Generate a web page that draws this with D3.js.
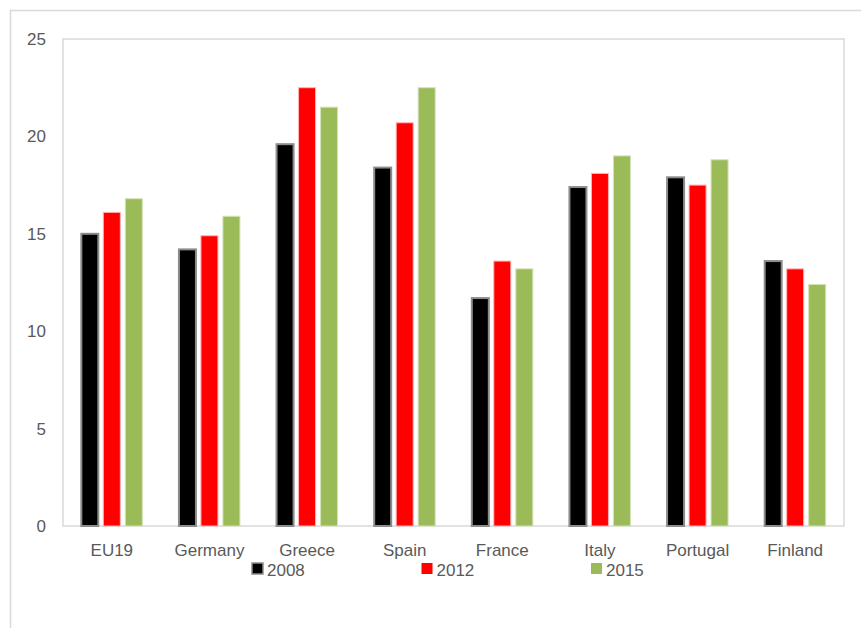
<!DOCTYPE html>
<html>
<head>
<meta charset="utf-8">
<title></title>
<script src="https://d3js.org/d3.v7.min.js"></script>
<style>
  body { margin: 0; background: #fff; }
  text { font-family: "Liberation Sans", Arial, sans-serif; fill: #595959; }
</style>
</head>
<body>
<script>
var w = 861, h = 628;
var categories = ["EU19", "Germany", "Greece", "Spain", "France", "Italy", "Portugal", "Finland"];
var years = ["2008", "2012", "2015"];
var v2008 = [15.0, 14.2, 19.6, 18.4, 11.7, 17.4, 17.9, 13.6];
var v2012 = [16.1, 14.9, 22.5, 20.7, 13.6, 18.1, 17.5, 13.2];
var v2015 = [16.8, 15.9, 21.5, 22.5, 13.2, 19.0, 18.8, 12.4];
var yTicks = [0, 5, 10, 15, 20, 25];

var fills = ["#000000", "#ff0000", "#9bbb59"];
var strokes = ["#8c8c8c", "#ffb3b3", "#d4e2b8"];

var series = [v2008, v2012, v2015];
var rows = categories.map(function(c, i) {
  return { cat: c, vals: years.map(function(y, j) { return { year: y, j: j, v: series[j][i] }; }) };
});

var m = { left: 63, right: 17, top: 39, bottom: 102 };
var svg = d3.select("body").append("svg").attr("width", w).attr("height", h);

// outer frame
svg.append("path").attr("d", "M10.5," + h + "V10.5H" + w)
  .attr("fill", "none").attr("stroke", "#d9d9d9").attr("stroke-width", 1.5);

var x0 = d3.scaleBand().domain(categories).range([m.left, w - m.right]);
var bw = x0.bandwidth();
var x1 = d3.scaleBand().domain(years).range([bw / 2 - 30.5, bw / 2 + 30.5]).paddingInner(0.227);
var y = d3.scaleLinear().domain([0, 25]).range([h - m.bottom, m.top]);

// plot border
svg.append("rect")
  .attr("x", m.left).attr("y", m.top)
  .attr("width", w - m.left - m.right).attr("height", h - m.top - m.bottom)
  .attr("fill", "none").attr("stroke", "#d9d9d9").attr("stroke-width", 1.5);

var g = svg.selectAll("g.grp").data(rows).enter().append("g")
  .attr("class", "grp")
  .attr("transform", function(d) { return "translate(" + x0(d.cat) + ",0)"; });

g.selectAll("rect").data(function(d) { return d.vals; }).enter().append("rect")
  .attr("x", function(d) { return x1(d.year); })
  .attr("y", function(d) { return y(d.v); })
  .attr("width", x1.bandwidth())
  .attr("height", function(d) { return y(0) - y(d.v); })
  .attr("fill", function(d) { return fills[d.j]; })
  .attr("stroke", function(d) { return strokes[d.j]; })
  .attr("stroke-width", function(d) { return d.j == 0 ? 2 : 1; });

// y axis labels
var yAxis = d3.axisLeft(y).tickValues(yTicks).tickSize(0).tickPadding(0);
var ya = svg.append("g").attr("transform", "translate(46,0)").call(yAxis);
ya.select(".domain").remove();
ya.selectAll("text").style("font-size", "17px").attr("fill", "#595959");

// x axis labels
var xAxis = d3.axisBottom(x0).tickSize(0).tickPadding(0);
var xa = svg.append("g").attr("transform", "translate(0," + 544 + ")").call(xAxis);
xa.select(".domain").remove();
xa.selectAll("text").style("font-size", "17px").attr("fill", "#595959");

// legend
var lx = d3.scalePoint().domain(years).range([252, 591]);
var lg = svg.selectAll("g.leg").data(years).enter().append("g")
  .attr("class", "leg")
  .attr("transform", function(d) { return "translate(" + lx(d) + ",563)"; });
lg.append("rect").attr("width", 11).attr("height", 11)
  .attr("fill", function(d, i) { return fills[i]; })
  .attr("stroke", function(d, i) { return i == 0 ? "#8c8c8c" : "none"; })
  .attr("stroke-width", 1.5);
lg.append("text").attr("x", 15).attr("y", 12.5)
  .style("font-size", "17px")
  .text(function(d) { return d; });
</script>
</body>
</html>
